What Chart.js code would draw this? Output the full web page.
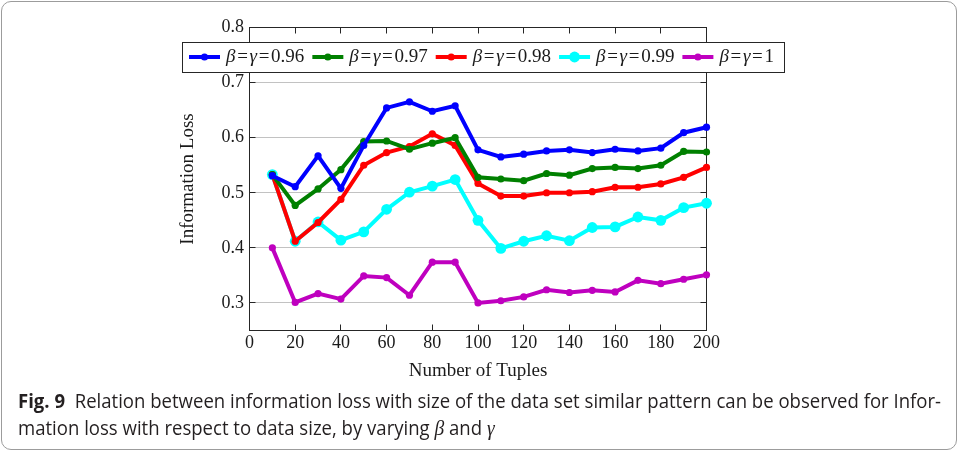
<!DOCTYPE html>
<html>
<head>
<meta charset="utf-8">
<script src="https://cdn.jsdelivr.net/npm/chart.js@4.4.1/dist/chart.umd.min.js"></script>
<style>
  html, body { margin: 0; padding: 0; background: #fff; }
  #wrap { position: relative; width: 959px; height: 451px; overflow: hidden; }
  #border { position: absolute; left: 1px; top: 1px; width: 956px; height: 449px;
            box-sizing: border-box; border: 1px solid #9c9c9c; border-radius: 10px; }
  #plot { position: absolute; left: 0; top: 0; }
  .cap { position: absolute; left: 18px; height: 24px; line-height: 24px; white-space: nowrap;
         font-family: "Liberation Sans Narrow", "Open Sans", "Noto Sans", sans-serif;
         font-size: 20px; color: #231f20; transform-origin: 0 50%; }
  .cap b { font-weight: bold; }
  .cap i { font-family: "Liberation Serif", serif; font-style: italic; font-size: 21px; }
</style>
</head>
<body>
<div id="wrap">
  <div id="border"></div>
  <canvas id="plot" width="959" height="451"></canvas>
  <div class="cap" id="cap1" style="top:389px"><b>Fig. 9</b>&nbsp; Relation between information loss with size of the data set similar pattern can be observed for Infor-</div>
  <div class="cap" id="cap2" style="top:416px">mation loss with respect to data size, by varying <i>β</i> and <i>γ</i></div>
</div>
<script>
// Number of tuples on the x axis
const tuples = [10, 20, 30, 40, 50, 60, 70, 80, 90, 100, 110, 120, 130, 140, 150, 160, 170, 180, 190, 200];

// Information loss for each β = γ setting
const loss096 = [0.531, 0.511, 0.567, 0.508, 0.586, 0.654, 0.665, 0.648, 0.658, 0.578, 0.565, 0.570, 0.576, 0.578, 0.573, 0.579, 0.576, 0.581, 0.609, 0.619];
const loss097 = [0.533, 0.477, 0.507, 0.542, 0.593, 0.594, 0.579, 0.590, 0.600, 0.528, 0.525, 0.522, 0.535, 0.532, 0.544, 0.546, 0.544, 0.550, 0.575, 0.574];
const loss098 = [0.533, 0.412, 0.446, 0.488, 0.550, 0.573, 0.584, 0.607, 0.586, 0.517, 0.494, 0.494, 0.500, 0.500, 0.502, 0.510, 0.510, 0.516, 0.528, 0.546];
const loss099 = [0.533, 0.412, 0.447, 0.414, 0.429, 0.470, 0.501, 0.512, 0.524, 0.450, 0.399, 0.412, 0.422, 0.413, 0.437, 0.438, 0.456, 0.450, 0.473, 0.481];
const loss100 = [0.400, 0.301, 0.317, 0.307, 0.349, 0.346, 0.314, 0.374, 0.374, 0.300, 0.304, 0.311, 0.324, 0.319, 0.323, 0.320, 0.341, 0.335, 0.343, 0.351];

const seriesLabels = ['β=γ=0.96', 'β=γ=0.97', 'β=γ=0.98', 'β=γ=0.99', 'β=γ=1'];

// Tick positions
const xTickValues = [0, 20, 40, 60, 80, 100, 120, 140, 160, 180, 200];
const yTickValues = [0.3, 0.4, 0.5, 0.6, 0.7, 0.8];

const SERIF = '"Liberation Serif", "Times New Roman", serif';
const TICK_IN = 6;

function points(values) {
  return values.map((v, i) => ({ x: tuples[i], y: v }));
}

function series(label, values, color, radius) {
  return {
    label: label,
    data: points(values),
    borderColor: color,
    backgroundColor: color,
    borderWidth: 4,
    pointRadius: radius,
    pointBorderWidth: 0,
    pointBackgroundColor: color,
    tension: 0,
    clip: false
  };
}

// Box frame with inward ticks on all four sides
const axisFrame = {
  id: 'axisFrame',
  beforeDatasetsDraw(chart) {
    const { ctx, chartArea: a, scales: { x, y } } = chart;
    ctx.save();
    ctx.strokeStyle = '#262626';
    ctx.lineWidth = 1;
    ctx.beginPath();
    xTickValues.forEach(v => {
      const px = Math.round(x.getPixelForValue(v) - 0.5) + 0.5;
      ctx.moveTo(px, a.bottom); ctx.lineTo(px, a.bottom - TICK_IN);
      ctx.moveTo(px, a.top); ctx.lineTo(px, a.top + TICK_IN);
    });
    yTickValues.forEach(v => {
      const py = Math.round(y.getPixelForValue(v) - 0.5) + 0.5;
      ctx.moveTo(a.left, py); ctx.lineTo(a.left + TICK_IN, py);
      ctx.moveTo(a.right, py); ctx.lineTo(a.right - TICK_IN, py);
    });
    ctx.stroke();
    ctx.strokeRect(a.left, a.top, a.right - a.left, a.bottom - a.top);
    ctx.restore();
  }
};

// Legend row in a framed box; Greek letters in italic, relation signs with math spacing
const legendBox = {
  id: 'legendBox',
  afterDraw(chart) {
    const ctx = chart.ctx;
    const fs = 19;
    const upright = fs + 'px ' + SERIF;
    const italic = 'italic ' + fs + 'px ' + SERIF;
    const boxLeft = 182, boxTop = 42, boxH = 30, boxW = 602;
    const inset = 7, sample = 31, gapAfterSample = 6, gapBetween = 8, rightPad = 10;
    const midY = boxTop + boxH / 2;

    const isGreek = ch => ch === 'β' || ch === 'γ';
    const glyphW = ch => { ctx.font = isGreek(ch) ? italic : upright; return ctx.measureText(ch).width; };

    ctx.save();
    const datasets = chart.data.datasets;
    let natural = 0, relCount = 0;
    datasets.forEach(ds => {
      for (const ch of ds.label) { natural += glyphW(ch); if (ch === '=') relCount++; }
    });
    const fixed = inset + datasets.length * (sample + gapAfterSample) + (datasets.length - 1) * gapBetween + rightPad;
    const relPad = Math.max(0, (boxW - fixed - natural) / (relCount * 2));

    ctx.fillStyle = '#fff';
    ctx.fillRect(boxLeft, boxTop, boxW, boxH);
    ctx.strokeStyle = '#262626';
    ctx.lineWidth = 1;
    ctx.strokeRect(boxLeft + 0.5, boxTop + 0.5, boxW, boxH);

    let x = boxLeft + inset;
    datasets.forEach(ds => {
      ctx.strokeStyle = ds.borderColor;
      ctx.lineWidth = 4;
      ctx.beginPath();
      ctx.moveTo(x, midY); ctx.lineTo(x + sample, midY);
      ctx.stroke();
      ctx.fillStyle = ds.backgroundColor;
      ctx.beginPath();
      ctx.arc(x + sample / 2, midY, ds.pointRadius, 0, Math.PI * 2);
      ctx.fill();
      x += sample + gapAfterSample;
      ctx.fillStyle = '#1a1a1a';
      ctx.textBaseline = 'middle';
      ctx.textAlign = 'left';
      for (const ch of ds.label) {
        const w = glyphW(ch);
        if (ch === '=') x += relPad;
        ctx.fillText(ch, x, midY);
        x += w;
        if (ch === '=') x += relPad;
      }
      x += gapBetween;
    });
    ctx.restore();
  }
};

Chart.defaults.font.family = SERIF;
Chart.defaults.font.size = 18;
Chart.defaults.color = '#1a1a1a';

new Chart(document.getElementById('plot'), {
  type: 'line',
  data: {
    datasets: [
      series(seriesLabels[0], loss096, '#0000ff', 3.6),
      series(seriesLabels[1], loss097, '#008000', 3.6),
      series(seriesLabels[2], loss098, '#ff0000', 3.6),
      series(seriesLabels[3], loss099, '#00ffff', 5.4),
      series(seriesLabels[4], loss100, '#bf00bf', 3.6)
    ]
  },
  options: {
    responsive: false,
    animation: false,
    events: [],
    layout: { padding: { left: 176.6, top: 27.5, right: 252.5, bottom: 68.5 } },
    plugins: { legend: { display: false }, tooltip: { enabled: false } },
    scales: {
      x: {
        type: 'linear',
        min: 0, max: 200,
        afterBuildTicks: s => { s.ticks = xTickValues.map(v => ({ value: v })); },
        afterFit: s => { s.height = 52; },
        grid: { display: false, drawTicks: false },
        border: { display: false },
        ticks: { padding: 1.5, maxRotation: 0, callback: v => String(v) },
        title: { display: true, text: 'Number of Tuples', padding: 0, font: { size: 19 } }
      },
      y: {
        type: 'linear',
        min: 0.25, max: 0.8,
        afterBuildTicks: s => { s.ticks = yTickValues.map(v => ({ value: v })); },
        afterFit: s => { s.width = 72.9; },
        grid: {
          drawTicks: false,
          color: ctx => (ctx.tick && ctx.tick.value > 0.75) ? 'rgba(0,0,0,0)' : '#c2c2c2',
          lineWidth: 1
        },
        border: { display: false },
        ticks: { padding: 5.5, callback: v => Number(v).toFixed(1) },
        title: { display: true, text: 'Information Loss', padding: 0, font: { size: 19 } }
      }
    }
  },
  plugins: [axisFrame, legendBox]
});

// Fit the caption's first line to the text block width; second line uses the same condensing
(function fitCaption() {
  const c1 = document.getElementById('cap1');
  const c2 = document.getElementById('cap2');
  const w1 = c1.getBoundingClientRect().width;
  const s = 923 / w1;
  c1.style.transform = 'scaleX(' + s + ')';
  c2.style.transform = 'scaleX(' + s + ')';
})();
</script>
</body>
</html>
